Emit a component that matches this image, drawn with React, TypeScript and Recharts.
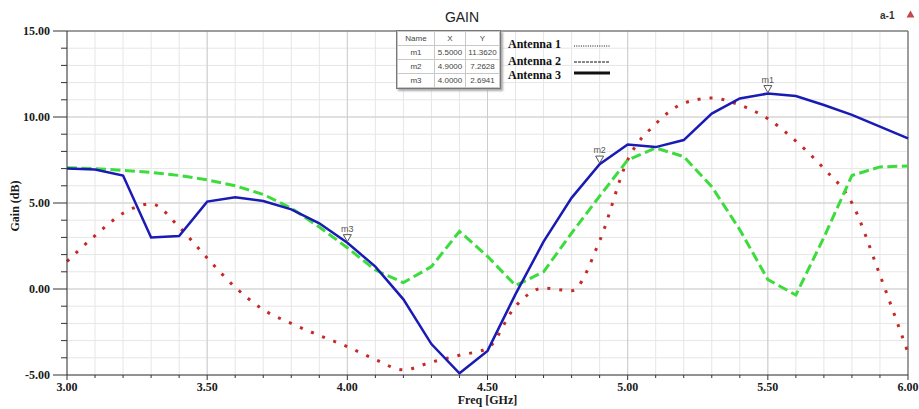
import React from 'react';
import { LineChart, Line, XAxis, YAxis, CartesianGrid, ReferenceLine, ReferenceDot, Legend } from 'recharts';

const freqs = [3.0, 3.1, 3.2, 3.3, 3.4, 3.5, 3.6, 3.7, 3.8, 3.9, 4.0, 4.1, 4.2, 4.3, 4.4, 4.5, 4.6, 4.7, 4.8, 4.9, 5.0, 5.1, 5.2, 5.3, 5.4, 5.5, 5.6, 5.7, 5.8, 5.9, 6.0];
const antenna1 = [1.6, 3.1, 4.4, 4.95, 3.6, 1.8, 0.1, -1.2, -2.0, -2.7, -3.35, -4.1, -4.7, -4.25, -3.85, -3.45, -1.0, 0.05, -0.1, 2.8, 7.5, 9.6, 10.8, 11.1, 10.7, 9.9, 8.6, 7.0, 5.0, 0.8, -3.7];
const antenna2 = [7.05, 7.0, 6.9, 6.78, 6.6, 6.35, 6.0, 5.5, 4.7, 3.6, 2.4, 1.1, 0.37, 1.3, 3.35, 1.9, 0.2, 1.0, 3.25, 5.4, 7.5, 8.2, 7.7, 5.95, 3.45, 0.55, -0.35, 3.0, 6.6, 7.1, 7.15];
const antenna3 = [7.0, 6.95, 6.6, 3.0, 3.08, 5.08, 5.33, 5.12, 4.63, 3.82, 2.69, 1.3, -0.6, -3.2, -4.9, -3.6, -0.3, 2.75, 5.3, 7.26, 8.4, 8.25, 8.66, 10.2, 11.08, 11.36, 11.22, 10.7, 10.12, 9.44, 8.76];

const seriesNames = ['Antenna 1', 'Antenna 2', 'Antenna 3'];

const xTicks = [3.0, 3.1, 3.2, 3.3, 3.4, 3.5, 3.6, 3.7, 3.8, 3.9, 4.0, 4.1, 4.2, 4.3, 4.4, 4.5, 4.6, 4.7, 4.8, 4.9, 5.0, 5.1, 5.2, 5.3, 5.4, 5.5, 5.6, 5.7, 5.8, 5.9, 6.0];
const xMajor = [3.5, 4.0, 4.5, 5.0, 5.5];
const yTicks = [-5, -4, -3, -2, -1, 0, 1, 2, 3, 4, 5, 6, 7, 8, 9, 10, 11, 12, 13, 14, 15];
const yMajor = [0, 5, 10];

const markerNames = ['m1', 'm2', 'm3'];
const markerX = [5.5, 4.9, 4.0];
const markerY = [11.362, 7.2628, 2.6941];

const data = freqs.map((f, i) => ({ freq: f, a1: antenna1[i], a2: antenna2[i], a3: antenna3[i] }));

const SERIF = '"Liberation Serif", "Times New Roman", serif';
const SANS = '"Liberation Sans", Arial, sans-serif';

const isMajorX = (v: number) => Math.abs(v * 2 - Math.round(v * 2)) < 1e-6;

const XTick = (props: any) => {
  const { x, y, payload } = props;
  const v = payload.value as number;
  const major = isMajorX(v);
  return (
    <g>
      <line x1={x} x2={x} y1={y} y2={y + (major ? 5 : 3)} stroke="#333" strokeWidth={1} />
      {major && (
        <text x={x} y={y + 16} textAnchor="middle" fontFamily={SERIF} fontWeight="bold" fontSize={12} fill="#1a1a1a">
          {v.toFixed(2)}
        </text>
      )}
    </g>
  );
};

const YTick = (props: any) => {
  const { x, y, payload } = props;
  const v = payload.value as number;
  const major = Math.abs(v % 5) < 1e-6;
  return (
    <g>
      <line x1={x - (major ? 14 : 6)} x2={x} y1={y} y2={y} stroke="#333" strokeWidth={1} />
      {major && (
        <text x={x - 17} y={y + 4} textAnchor="end" fontFamily={SERIF} fontWeight="bold" fontSize={12} fill="#1a1a1a">
          {v.toFixed(2)}
        </text>
      )}
    </g>
  );
};

const MarkerShape = (name: string) => (props: any) => {
  const { cx, cy } = props;
  return (
    <g>
      <polygon points={`${cx - 4},${cy - 8} ${cx + 4},${cy - 8} ${cx},${cy - 1}`} fill="#fff" stroke="#555" strokeWidth={1} />
      <text x={cx} y={cy - 11} textAnchor="middle" fontFamily={SANS} fontSize={9} fill="#555">{name}</text>
    </g>
  );
};

const legendStyles = [
  { dash: '1 1.3', width: 1.2 },
  { dash: '3 1', width: 1 },
  { dash: undefined, width: 3 },
];

const renderLegend = () => (
  <svg width={120} height={50} style={{ display: 'block' }}>
    {seriesNames.map((n, i) => {
      const cy = [8, 25, 39][i];
      const ly = [10, 26, 37][i];
      return (
        <g key={n}>
          <text x={3} y={cy + 4} fontFamily={SERIF} fontWeight="bold" fontSize={12} fill="#111">{n}</text>
          <line x1={69} x2={105} y1={ly} y2={ly} stroke="#111" strokeWidth={legendStyles[i].width} strokeDasharray={legendStyles[i].dash} />
        </g>
      );
    })}
  </svg>
);

const cellStyle: React.CSSProperties = {
  border: '1px solid #c8c8c8',
  padding: 0,
  height: 13,
  textAlign: 'center',
  fontFamily: SANS,
  fontSize: 8,
  color: '#444',
};

export default function App() {
  return (
    <div style={{ position: 'absolute', left: 0, top: 0, width: 919, height: 409, background: '#fff', overflow: 'hidden' }}>
      <LineChart width={919} height={409} data={data} margin={{ top: 31, right: 11, bottom: 0, left: 12 }}>
        <CartesianGrid stroke="#e6e6e6" strokeWidth={1} />
        {xMajor.map((v) => (
          <ReferenceLine key={'vx' + v} x={v} stroke="#cdcdcd" strokeWidth={1} />
        ))}
        {yMajor.map((v) => (
          <ReferenceLine key={'hy' + v} y={v} stroke="#cdcdcd" strokeWidth={1} />
        ))}
        <ReferenceLine y={15} stroke="#808080" strokeWidth={1.5} />
        <ReferenceLine x={6} stroke="#808080" strokeWidth={1.5} />
        <XAxis
          dataKey="freq"
          type="number"
          domain={[3, 6]}
          ticks={xTicks}
          interval={0}
          height={34}
          tickSize={0}
          tickMargin={0}
          tickLine={false}
          axisLine={{ stroke: '#333' }}
          tick={XTick}
          label={{
            content: (p: any) => {
              const vb = p.viewBox || {};
              return (
                <text x={vb.x + vb.width / 2} y={vb.y + 29} textAnchor="middle" fontFamily={SERIF} fontWeight="bold" fontSize={12} fill="#1a1a1a">
                  Freq [GHz]
                </text>
              );
            },
          }}
        />
        <YAxis
          type="number"
          domain={[-5, 15]}
          ticks={yTicks}
          interval={0}
          width={55}
          tickSize={0}
          tickMargin={0}
          tickLine={false}
          axisLine={{ stroke: '#333' }}
          tick={YTick}
          label={{
            content: (p: any) => {
              const vb = p.viewBox || {};
              const cx = vb.x + 3;
              const cy = vb.y + vb.height / 2 + 3;
              return (
                <text x={cx} y={cy} transform={`rotate(-90 ${cx} ${cy})`} textAnchor="middle" dominantBaseline="central" fontFamily={SERIF} fontWeight="bold" fontSize={12} fill="#1a1a1a">
                  Gain (dB)
                </text>
              );
            },
          }}
        />
        <Legend
          layout="vertical"
          align="center"
          verticalAlign="middle"
          content={renderLegend}
          wrapperStyle={{ position: 'absolute', left: 505, top: 36, width: 120, height: 50 }}
        />
        <Line name={seriesNames[0]} type="monotone" dataKey="a1" stroke="#c42a28" strokeWidth={3} strokeDasharray="3 9" dot={false} isAnimationActive={false} />
        <Line name={seriesNames[1]} type="linear" dataKey="a2" stroke="#3ddc3d" strokeWidth={3} strokeDasharray="10 4.5" dot={false} isAnimationActive={false} />
        <Line name={seriesNames[2]} type="linear" dataKey="a3" stroke="#1a1ab4" strokeWidth={2.5} dot={false} isAnimationActive={false} />
        {markerNames.map((n, i) => (
          <ReferenceDot key={n} x={markerX[i]} y={markerY[i]} r={4} ifOverflow="visible" shape={MarkerShape(n)} />
        ))}
      </LineChart>

      <div style={{ position: 'absolute', left: 0, top: 8, width: 924, textAlign: 'center', fontFamily: SANS, fontSize: 14, color: '#222', lineHeight: '18px' }}>
        GAIN
      </div>

      <div style={{ position: 'absolute', left: 880, top: 9, fontFamily: SANS, fontSize: 10, fontWeight: 'bold', color: '#333', lineHeight: '14px' }}>
        a-1
      </div>
      <svg style={{ position: 'absolute', left: 906, top: 10 }} width={9} height={9}>
        <polygon points="4.5,0.5 8.5,7.5 0.5,7.5" fill="#c84848" />
      </svg>

      <div style={{ position: 'absolute', left: 396, top: 30, background: '#fff', border: '1px solid #777', boxShadow: '2px 2px 2px #aaa' }}>
        <table style={{ borderCollapse: 'collapse', tableLayout: 'fixed' }}>
          <tbody>
            <tr>
              <td style={{ ...cellStyle, width: 36 }}>Name</td>
              <td style={{ ...cellStyle, width: 30 }}>X</td>
              <td style={{ ...cellStyle, width: 33 }}>Y</td>
            </tr>
            {markerNames.map((n, i) => (
              <tr key={n}>
                <td style={cellStyle}>{n}</td>
                <td style={cellStyle}>{markerX[i].toFixed(4)}</td>
                <td style={cellStyle}>{markerY[i].toFixed(4)}</td>
              </tr>
            ))}
          </tbody>
        </table>
      </div>
    </div>
  );
}
